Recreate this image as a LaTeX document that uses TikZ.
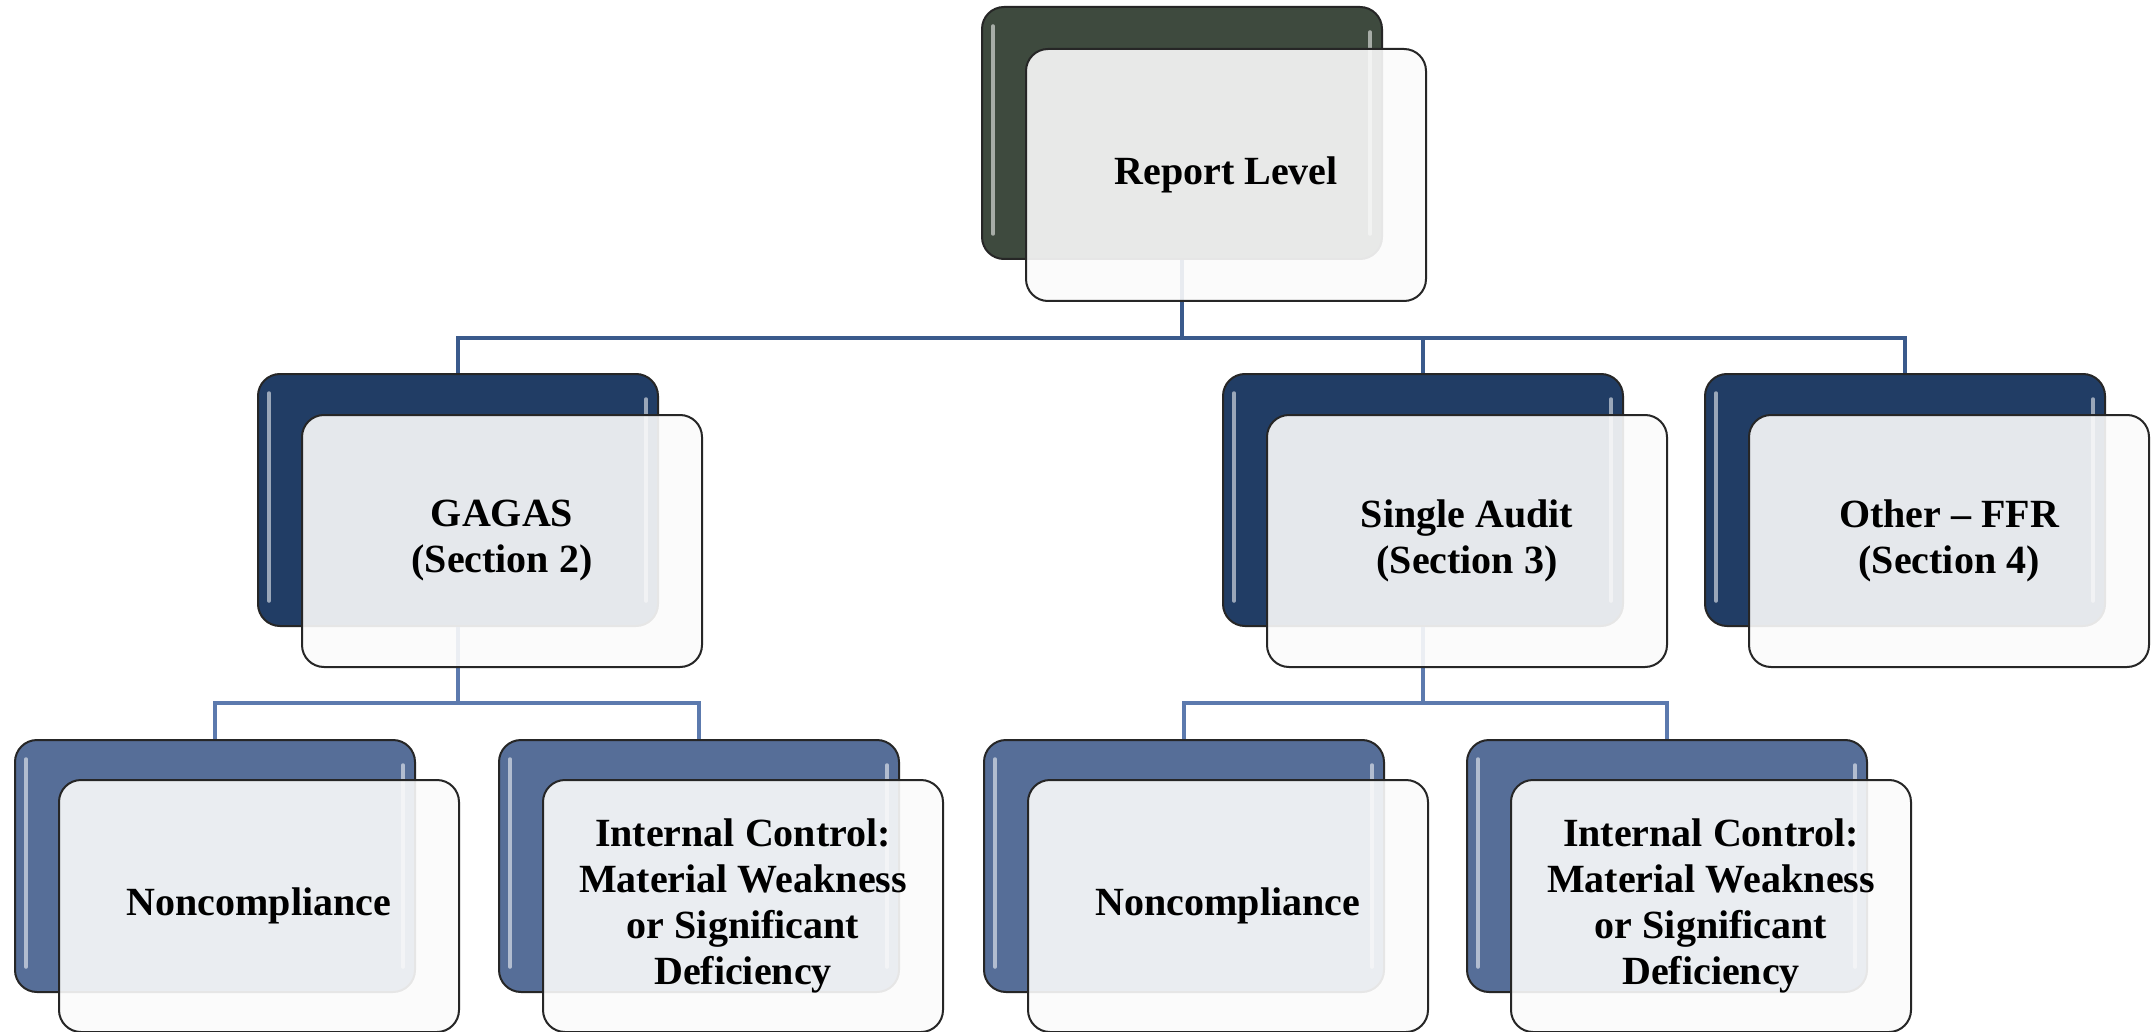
\documentclass[tikz,border=0pt]{standalone}
\usepackage{fontspec}
\setmainfont{Liberation Serif}
\begin{document}
\definecolor{topfill}{HTML}{3E4A3E}
\definecolor{midfill}{HTML}{213D65}
\definecolor{lowfill}{HTML}{566E98}
\definecolor{linkdark}{HTML}{3A5A8C}
\definecolor{linklight}{HTML}{5C7AAE}
\definecolor{frontfill}{HTML}{FBFBFB}
\tikzset{
  backbox/.style={draw=black!85, line width=2pt, rounded corners=22pt,
    minimum width=400pt, minimum height=252pt, inner sep=0pt, anchor=north west},
  frontbox/.style={draw=black!85, line width=2pt, rounded corners=22pt,
    fill=frontfill, fill opacity=0.9, text opacity=1,
    minimum width=400pt, minimum height=252pt, inner sep=0pt,
    anchor=north west, align=center,
    font=\fontsize{40}{46}\selectfont\bfseries},
  gloss/.style={white, opacity=0.55, line width=3.5pt, line cap=round},
  link/.style={line width=3.5pt, draw=linkdark},
  sublink/.style={line width=3.5pt, draw=linklight},
}
\newcommand{\backcard}[4]{% name, x, y, colour
  \node[backbox, fill=#4] (#1) at (#2,#3) {};
  \draw[gloss] ([xshift=12pt,yshift=-20pt]#1.north west) -- ([xshift=12pt,yshift=26pt]#1.south west);
  \draw[gloss] ([xshift=-13pt,yshift=-26pt]#1.north east) -- ([xshift=-13pt,yshift=26pt]#1.south east);
}
\begin{tikzpicture}[x=1pt,y=-1pt]
\useasboundingbox[fill=white] (0,0) rectangle (2153,1032);
\coordinate (bus1) at (0,338);
\coordinate (bus2) at (0,703);

% back cards
\backcard{rb}{981}{6}{topfill}
\backcard{gb}{257}{373}{midfill}
\backcard{sb}{1222}{373}{midfill}
\backcard{ob}{1704}{373}{midfill}
\backcard{n1b}{14}{739}{lowfill}
\backcard{i1b}{498}{739}{lowfill}
\backcard{n2b}{983}{739}{lowfill}
\backcard{i2b}{1466}{739}{lowfill}

% connectors
\begin{scope}[on background layer/.style={}]
\draw[link] (rb.south) -- (rb.south |- bus1) -| (gb.north);
\draw[link] (rb.south) -- (rb.south |- bus1) -| (sb.north);
\draw[link] (rb.south) -- (rb.south |- bus1) -| (ob.north);
\draw[sublink] (gb.south) -- (gb.south |- bus2) -| (n1b.north);
\draw[sublink] (gb.south) -- (gb.south |- bus2) -| (i1b.north);
\draw[sublink] (sb.south) -- (sb.south |- bus2) -| (n2b.north);
\draw[sublink] (sb.south) -- (sb.south |- bus2) -| (i2b.north);
\end{scope}

% front cards with the labels
\node[frontbox] (r) at (1025,48) {Report Level};
\node[frontbox] (g) at (301,414) {GAGAS\\(Section 2)};
\node[frontbox] (s) at (1266,414) {Single Audit\\(Section 3)};
\node[frontbox] (o) at (1748,414) {Other -- FFR\\(Section 4)};
\node[frontbox] (n1) at (58,779) {Noncompliance};
\node[frontbox] (i1) at (542,779) {Internal Control:\\Material Weakness\\or Significant\\Deficiency};
\node[frontbox] (n2) at (1027,779) {Noncompliance};
\node[frontbox] (i2) at (1510,779) {Internal Control:\\Material Weakness\\or Significant\\Deficiency};
\end{tikzpicture}
\end{document}
